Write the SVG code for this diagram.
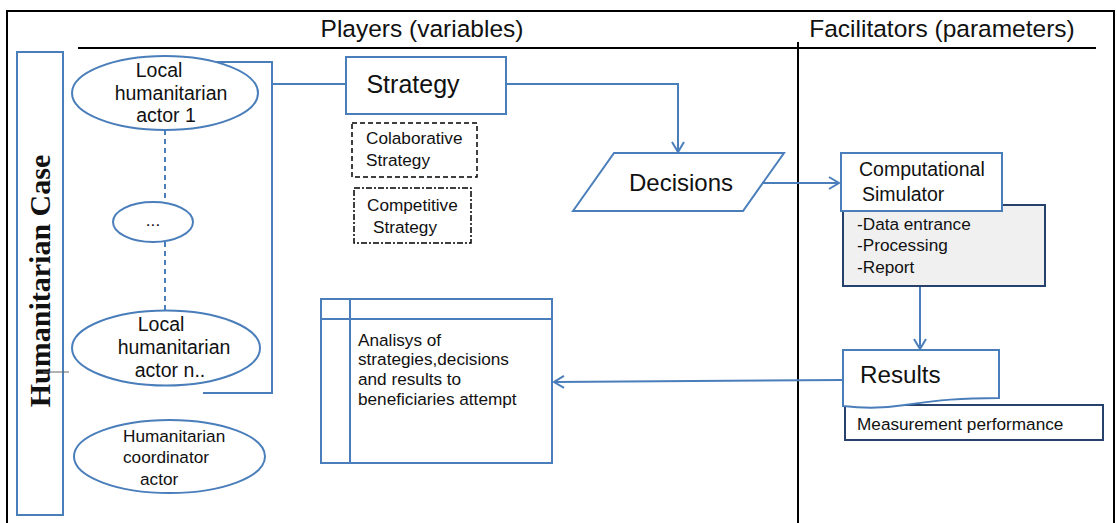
<svg xmlns="http://www.w3.org/2000/svg" width="1117" height="523" viewBox="0 0 1117 523">
<style>
text{font-family:"Liberation Sans",Arial,sans-serif;fill:#111}
.b{fill:#fff;stroke:#4a7ebb;stroke-width:2}
.ln{fill:none;stroke:#4a7ebb;stroke-width:2}
.dk{fill:none;stroke:#000;stroke-width:2}
.t17{font-size:17.2px}
.t19{font-size:19.5px}
.t24{font-size:24.5px}
</style>
<defs>
<marker id="ah" markerWidth="14" markerHeight="14" refX="11" refY="7" orient="auto" markerUnits="userSpaceOnUse">
<path d="M1,1 L11,7 L1,13" fill="none" stroke="#4a7ebb" stroke-width="2"/>
</marker>
</defs>
<rect width="1117" height="523" fill="#fff"/>
<g id="frame">
<path d="M7,523 L7,11 L1114,11 L1114,523" class="dk"/>
<line x1="78" y1="48" x2="1096" y2="48" class="dk"/>
<line x1="798" y1="42" x2="798" y2="523" class="dk"/>
<text x="422" y="37" text-anchor="middle" font-size="24.5">Players (variables)</text>
<text x="942" y="37" text-anchor="middle" font-size="24.5">Facilitators (parameters)</text>
</g>
<g id="case">
<rect x="17" y="52" width="46" height="463" class="b"/>
<text transform="translate(50,281) rotate(-90)" text-anchor="middle" style="font-family:'Liberation Serif','Times New Roman',serif;font-weight:bold;font-size:30px">Humanitarian Case</text>
</g>
<g id="connectors">
<line x1="165" y1="130" x2="165" y2="202" class="ln" stroke-dasharray="5,4"/>
<line x1="165" y1="242" x2="165" y2="311" class="ln" stroke-dasharray="5,4"/>
<path d="M200,62 L272,62 L272,393 L203,393" class="ln"/>
<line x1="272" y1="84" x2="346" y2="84" class="ln"/>
<path d="M506,84 L678,84 L678,152" class="ln" marker-end="url(#ah)"/>
<line x1="763" y1="183" x2="839" y2="183" class="ln" marker-end="url(#ah)"/>
<line x1="920" y1="286" x2="920" y2="349" class="ln" marker-end="url(#ah)"/>
<line x1="843" y1="380" x2="554" y2="382" class="ln" marker-end="url(#ah)"/>
<line x1="43" y1="372" x2="69" y2="372" stroke="#666" stroke-width="1"/>
</g>
<g id="actor1">
<ellipse cx="165" cy="93" rx="93" ry="37" class="b"/>
<text x="159" y="77" text-anchor="middle" class="t19">Local</text>
<text x="171" y="100" text-anchor="middle" class="t19">humanitarian</text>
<text x="166" y="122" text-anchor="middle" class="t19">actor 1</text>
</g>
<g id="dots">
<ellipse cx="153" cy="222" rx="40" ry="20" class="b"/>
<text x="153" y="226" text-anchor="middle" class="t17">...</text>
</g>
<g id="actorn">
<ellipse cx="166" cy="348" rx="94" ry="37.5" class="b"/>
<text x="161" y="331" text-anchor="middle" class="t19">Local</text>
<text x="174" y="354" text-anchor="middle" class="t19">humanitarian</text>
<text x="170" y="377" text-anchor="middle" class="t19">actor n..</text>
</g>
<g id="coordinator">
<ellipse cx="169.5" cy="456.5" rx="95.5" ry="36.5" class="b"/>
<text x="123" y="442" class="t17">Humanitarian</text>
<text x="123" y="463" class="t17">coordinator</text>
<text x="140" y="485" class="t17">actor</text>
</g>
<g id="strategy">
<rect x="346" y="57" width="160" height="57" class="b"/>
<text x="413" y="93" text-anchor="middle" font-size="25">Strategy</text>
</g>
<g id="colab">
<rect x="352" y="123" width="125" height="54" fill="#fff" stroke="#000" stroke-width="1.5" stroke-dasharray="5,3"/>
<text x="366" y="144" class="t17">Colaborative</text>
<text x="366" y="166" class="t17">Strategy</text>
</g>
<g id="compet">
<rect x="354" y="188" width="117" height="55" fill="#fff" stroke="#000" stroke-width="1.5" stroke-dasharray="6,2,2,2"/>
<text x="367" y="211" class="t17">Competitive</text>
<text x="373" y="233" class="t17">Strategy</text>
</g>
<g id="decisions">
<polygon points="573,211 614,153 784,153 743,211" class="b"/>
<text x="681" y="191" text-anchor="middle" font-size="24">Decisions</text>
</g>
<g id="simulator">
<rect x="843" y="205" width="202" height="81" fill="#f0f0f0" stroke="#26416b" stroke-width="2"/>
<rect x="841" y="153" width="161" height="58" class="b"/>
<text x="859" y="176" class="t19">Computational</text>
<text x="862" y="201" class="t19">Simulator</text>
<text x="857" y="230" class="t17">-Data entrance</text>
<text x="857" y="251" class="t17">-Processing</text>
<text x="857" y="273" class="t17">-Report</text>
</g>
<g id="results">
<rect x="845" y="405" width="258" height="35" fill="#fff" stroke="#26416b" stroke-width="2"/>
<path d="M843,350 L999,350 L999,398 C960,398 940,400 905,405 C880,409 860,408 843,406 Z" class="b"/>
<text x="860" y="383" font-size="24.2">Results</text>
<text x="857" y="430" class="t17">Measurement performance</text>
</g>
<g id="analysis">
<rect x="321" y="299" width="231" height="164" class="b"/>
<line x1="321" y1="319" x2="552" y2="319" class="ln"/>
<line x1="350" y1="299" x2="350" y2="463" class="ln"/>
<text x="358" y="346" class="t17">Analisys of</text>
<text x="358" y="365" class="t17">strategies,decisions</text>
<text x="358" y="385" class="t17">and results to</text>
<text x="358" y="405" class="t17">beneficiaries attempt</text>
</g>
</svg>
